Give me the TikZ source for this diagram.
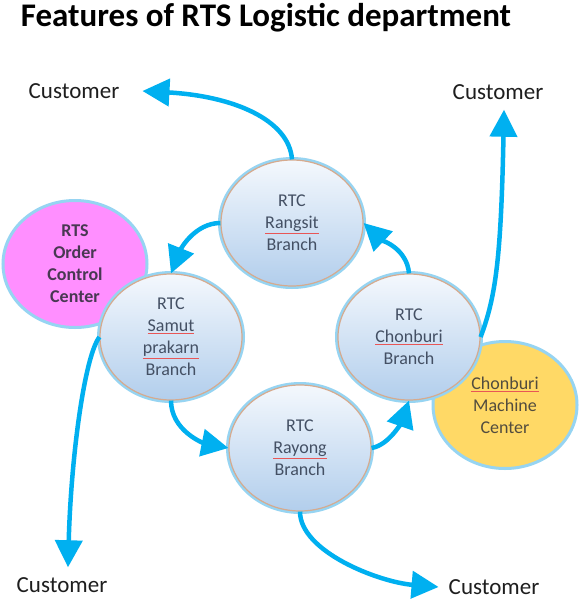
\documentclass[tikz,border=0pt]{standalone}
\usepackage{fontspec}
\setmainfont{Carlito}
\usetikzlibrary{shapes.geometric, arrows.meta}

\definecolor{flowblue}{RGB}{0,176,240}
\definecolor{glowblue}{RGB}{150,212,242}
\definecolor{rimtan}{RGB}{214,170,142}
\definecolor{bubbletop}{RGB}{244,248,253}
\definecolor{bubblebot}{RGB}{178,206,236}
\definecolor{bubbletext}{RGB}{68,80,100}
\definecolor{ordermagenta}{RGB}{255,143,255}
\definecolor{ordertext}{RGB}{72,56,82}
\definecolor{machineyellow}{RGB}{255,217,102}
\definecolor{machinetext}{RGB}{82,76,62}
\definecolor{spellred}{RGB}{232,86,86}

% red spell-check mark under a word
\newcommand{\spell}[2][bubbletext]{{\color{spellred}\underline{\color{#1}#2}}}

\begin{document}
\begin{tikzpicture}[x=1pt, y=1pt,
    branch/.style={ellipse, minimum width=142pt, minimum height=126pt, inner sep=0pt,
        top color=bubbletop, bottom color=bubblebot, draw=rimtan, line width=1.2pt,
        preaction={draw=glowblue, line width=6pt},
        text=bubbletext, align=center, font=\fontsize{18}{22}\selectfont},
    center/.style={ellipse, minimum width=144pt, minimum height=127pt, inner sep=0pt,
        draw=glowblue, line width=3pt, align=center, font=\fontsize{18}{22}\selectfont},
    customer/.style={inner sep=10pt, text={rgb,255:red,30;green,30;blue,30},
        font=\fontsize{23}{28}\selectfont},
    flow/.style={draw=flowblue, line width=4.5pt, -{Triangle[length=27pt, width=27pt]}}]

    \useasboundingbox (0,0) rectangle (582,-599);
    \fill[white] (0,0) rectangle (582,-599);

    % Title
    \node[anchor=base, font=\bfseries\fontsize{33}{38}\selectfont] (title) at (266,-27)
        {Features of RTS Logistic department};

    % The two centers
    \node[center, fill=ordermagenta, text=ordertext, font=\bfseries\fontsize{18}{22}\selectfont]
        (order) at (75,-264) {RTS\\Order\\Control\\Center};
    \node[center, fill=machineyellow, text=machinetext] (machine) at (505,-405)
        {\spell[machinetext]{Chonburi}\\Machine\\Center};

    % The four branches
    \node[branch] (rangsit) at (292,-223) {RTC\\\spell{Rangsit}\\Branch};
    \node[branch] (samut) at (171,-337) {RTC\\\spell{Samut}\\\spell{prakarn}\\Branch};
    \node[branch] (chonburi) at (409,-337) {RTC\\\spell{Chonburi}\\Branch};
    \node[branch] (rayong) at (300,-448) {RTC\\\spell{Rayong}\\Branch};

    % Customers
    \node[customer] (custTL) at (74,-91) {Customer};
    \node[customer] (custTR) at (498,-92) {Customer};
    \node[customer] (custBL) at (62,-585) {Customer};
    \node[customer] (custBR) at (494,-587) {Customer};

    % Flow between the branches
    \draw[flow] (rangsit.west) .. controls +(-25,0) and +(10,25) .. (samut.north);
    \draw[flow] (samut.south) .. controls +(0,-30) and +(-25,5) .. (rayong.west);
    \draw[flow] (rayong.east) .. controls +(18,3) and +(-7,-20) .. (chonburi.south);
    \draw[flow] (chonburi.north) .. controls +(-2,25) and +(18,-17) .. (rangsit.east);

    % Flow out to the customers
    \draw[flow] (rangsit.north) .. controls +(-3,40) and +(90,-5) .. ([xshift=13pt]custTL.east);
    \draw[flow] (chonburi.east) .. controls +(15,40) and +(-3,-150) .. ([xshift=6pt]custTR.south);
    \draw[flow] (samut.west) .. controls +(-15,-20) and +(3,110) .. ([xshift=6pt]custBL.north);
    \draw[flow] (rayong.south) .. controls +(0,-40) and +(-60,5) .. (custBR.west);
\end{tikzpicture}
\end{document}
